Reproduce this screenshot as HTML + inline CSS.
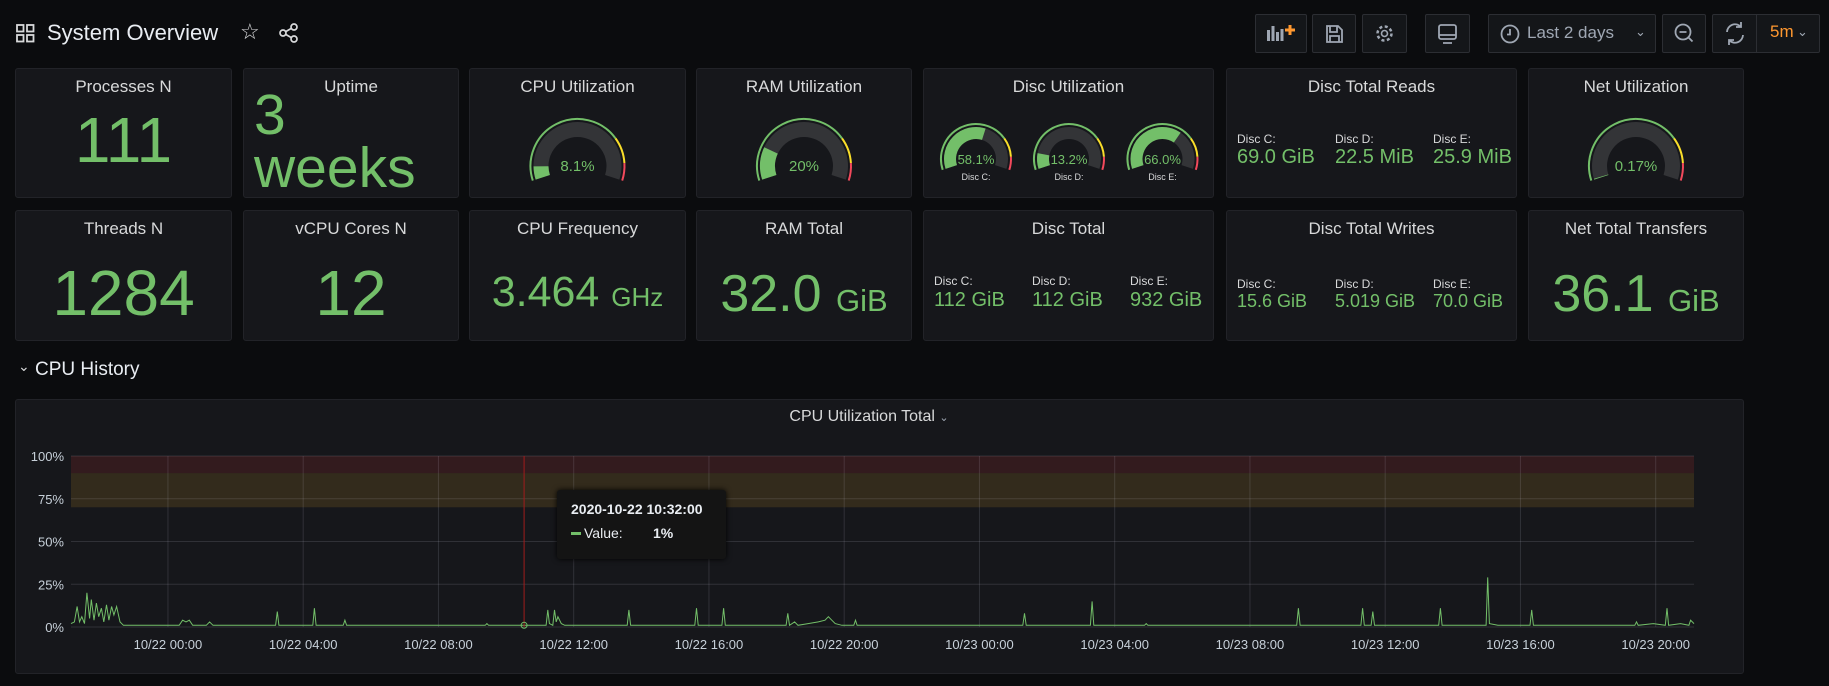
<!DOCTYPE html>
<html><head><meta charset="utf-8">
<style>
*{box-sizing:border-box;margin:0;padding:0}
body{width:1829px;height:686px;background:#0b0c0e;font-family:"Liberation Sans",sans-serif;color:#d8d9da;position:relative;overflow:hidden}
.abs{position:absolute}
.panel{position:absolute;background:#16171b;border:1px solid #222328;border-radius:3px}
.ptitle{position:absolute;left:0;right:0;top:8px;text-align:center;font-size:17px;color:#d8d9da}
.big{position:absolute;left:0;right:0;text-align:center;color:#73bf69;white-space:nowrap}
.btn{position:absolute;top:14px;height:39px;border:1px solid #2c2e33;background:#141619;border-radius:2px}
.lbl{position:absolute;font-size:12px;color:#d8d9da}
.val{position:absolute;font-size:20px;color:#73bf69;white-space:nowrap}
</style></head><body>
<!-- header -->
<svg class="abs" style="left:16px;top:24px" width="19" height="19"><g fill="none" stroke="#d8d9da" stroke-width="1.8"><rect x="1" y="1" width="6.5" height="6.5"/><rect x="11" y="1" width="6.5" height="6.5"/><rect x="1" y="11" width="6.5" height="6.5"/><rect x="11" y="11" width="6.5" height="6.5"/></g></svg>
<div class="abs" style="left:47px;top:20px;font-size:22px;color:#e9edf2">System Overview</div>
<div class="abs" style="left:240px;top:19px;font-size:22px;color:#d8d9da">☆</div>
<svg class="abs" style="left:279px;top:23px" width="20" height="20"><g fill="none" stroke="#d8d9da" stroke-width="1.7"><circle cx="4" cy="10" r="3"/><circle cx="15" cy="4" r="3"/><circle cx="15" cy="16" r="3"/><path d="M6.7 8.6L12.3 5.4M6.7 11.4L12.3 14.6"/></g></svg>

<div class="btn" style="left:1255px;width:52px"><svg width="50" height="37"><g fill="#9fa7b3"><rect x="11" y="15" width="3" height="11"/><rect x="15.5" y="11" width="3" height="15"/><rect x="20" y="17" width="3" height="9"/><rect x="24.5" y="14" width="3" height="12"/></g><path d="M34 10v10M29 15h10" stroke="#ff9830" stroke-width="3"/></svg></div>
<div class="btn" style="left:1312px;width:44px"><svg width="42" height="37"><path d="M14 11h11l4 4v12H14z M17 11v6h7v-6 M17 27v-6h9v6" fill="none" stroke="#9fa7b3" stroke-width="1.8"/></svg></div>
<div class="btn" style="left:1362px;width:45px"><svg width="43" height="37"><circle cx="21.5" cy="18.5" r="7" fill="none" stroke="#9fa7b3" stroke-width="2.5" stroke-dasharray="3 2.5"/><circle cx="21.5" cy="18.5" r="3" fill="none" stroke="#9fa7b3" stroke-width="1.6"/></svg></div>
<div class="btn" style="left:1425px;width:45px"><svg width="43" height="37"><rect x="13" y="10" width="17" height="14" rx="2" fill="none" stroke="#9fa7b3" stroke-width="1.8"/><path d="M13 20h17M17 28h9" stroke="#9fa7b3" stroke-width="1.8"/></svg></div>
<div class="btn" style="left:1488px;width:168px"><svg class="abs" style="left:10px;top:8px" width="22" height="22"><circle cx="11" cy="11" r="8.5" fill="none" stroke="#9fa7b3" stroke-width="1.8"/><path d="M11 6v5.5h-3" fill="none" stroke="#9fa7b3" stroke-width="1.8"/></svg><span class="abs" style="left:38px;top:8px;font-size:17px;color:#9fa7b3">Last 2 days</span><span class="abs" style="left:146px;top:9px;font-size:13px;color:#9fa7b3">⌄</span></div>
<div class="btn" style="left:1662px;width:44px"><svg width="42" height="37"><circle cx="20" cy="17" r="7.5" fill="none" stroke="#9fa7b3" stroke-width="1.8"/><path d="M16.5 17h7M25.5 22.5l4 4" stroke="#9fa7b3" stroke-width="1.8"/></svg></div>
<div class="btn" style="left:1712px;width:108px"><svg class="abs" style="left:0;top:0" width="44" height="37"><path d="M14 17a8 8 0 0 1 14-5M30 20a8 8 0 0 1-14 5M28 7v5h-5M16 30v-5h5" fill="none" stroke="#9fa7b3" stroke-width="1.8"/></svg><div class="abs" style="left:43px;top:0;width:1px;height:37px;background:#2c2e33"></div><span class="abs" style="left:57px;top:7px;font-size:17px;color:#ff9830">5m</span><span class="abs" style="left:84px;top:9px;font-size:13px;color:#9fa7b3">⌄</span></div>

<!-- row 1 -->
<div class="panel" style="left:15px;top:68px;width:217px;height:130px"><div class="ptitle">Processes N</div><div class="big" style="top:34px;font-size:64px">111</div></div>
<div class="panel" style="left:243px;top:68px;width:216px;height:130px"><div class="ptitle">Uptime</div><div class="big" style="text-align:left;left:10px;top:20px;font-size:57px;line-height:53px">3<br>weeks</div></div>
<div class="panel" style="left:469px;top:68px;width:217px;height:130px"><div class="ptitle">CPU Utilization</div></div>
<div class="panel" style="left:696px;top:68px;width:216px;height:130px"><div class="ptitle">RAM Utilization</div></div>
<div class="panel" style="left:923px;top:68px;width:291px;height:130px"><div class="ptitle">Disc Utilization</div></div>
<div class="panel" style="left:1226px;top:68px;width:291px;height:130px"><div class="ptitle">Disc Total Reads</div>
<div class="lbl" style="left:10px;top:63px">Disc C:</div><div class="val" style="left:10px;top:77px">69.0 GiB</div>
<div class="lbl" style="left:108px;top:63px">Disc D:</div><div class="val" style="left:108px;top:77px">22.5 MiB</div>
<div class="lbl" style="left:206px;top:63px">Disc E:</div><div class="val" style="left:206px;top:77px">25.9 MiB</div></div>
<div class="panel" style="left:1528px;top:68px;width:216px;height:130px"><div class="ptitle">Net Utilization</div></div>

<!-- row 2 -->
<div class="panel" style="left:15px;top:210px;width:217px;height:131px"><div class="ptitle">Threads N</div><div class="big" style="top:45px;font-size:64px">1284</div></div>
<div class="panel" style="left:243px;top:210px;width:216px;height:131px"><div class="ptitle">vCPU Cores N</div><div class="big" style="top:45px;font-size:64px">12</div></div>
<div class="panel" style="left:469px;top:210px;width:217px;height:131px"><div class="ptitle">CPU Frequency</div><div class="big" style="top:57px;font-size:43px">3.464 <span style="font-size:26px">GHz</span></div></div>
<div class="panel" style="left:696px;top:210px;width:216px;height:131px"><div class="ptitle">RAM Total</div><div class="big" style="top:53px;font-size:52px">32.0 <span style="font-size:31px">GiB</span></div></div>
<div class="panel" style="left:923px;top:210px;width:291px;height:131px"><div class="ptitle">Disc Total</div>
<div class="lbl" style="left:10px;top:63px">Disc C:</div><div class="val" style="left:10px;top:78px">112 GiB</div>
<div class="lbl" style="left:108px;top:63px">Disc D:</div><div class="val" style="left:108px;top:78px">112 GiB</div>
<div class="lbl" style="left:206px;top:63px">Disc E:</div><div class="val" style="left:206px;top:78px">932 GiB</div></div>
<div class="panel" style="left:1226px;top:210px;width:291px;height:131px"><div class="ptitle">Disc Total Writes</div>
<div class="lbl" style="left:10px;top:66px">Disc C:</div><div class="val" style="left:10px;top:80px;font-size:18px">15.6 GiB</div>
<div class="lbl" style="left:108px;top:66px">Disc D:</div><div class="val" style="left:108px;top:80px;font-size:18px">5.019 GiB</div>
<div class="lbl" style="left:206px;top:66px">Disc E:</div><div class="val" style="left:206px;top:80px;font-size:18px">70.0 GiB</div></div>
<div class="panel" style="left:1528px;top:210px;width:216px;height:131px"><div class="ptitle">Net Total Transfers</div><div class="big" style="top:53px;font-size:52px">36.1 <span style="font-size:31px">GiB</span></div></div>

<!-- row header -->
<div class="abs" style="left:18px;top:358px;font-size:14px;color:#d8d9da">⌄</div>
<div class="abs" style="left:35px;top:359px;font-size:19px;color:#e9edf2">CPU History</div>

<div class="panel" style="left:15px;top:399px;width:1729px;height:275px"></div>
<div class="abs" style="left:0;width:1738px;text-align:center;top:408px;font-size:16px;color:#d8d9da">CPU Utilization Total <span style="font-size:11px;color:#9fa7b3">⌄</span></div>

<svg id="ov" class="abs" style="left:0;top:0" width="1829" height="686"></svg>

<div class="abs" style="left:557px;top:490px;width:169px;height:69px;background:#141414;border-radius:3px;box-shadow:0 0 6px #000">
<div class="abs" style="left:14px;top:11px;font-size:14px;font-weight:bold;color:#e9edf2">2020-10-22 10:32:00</div>
<div class="abs" style="left:14px;top:42px;width:10px;height:3px;background:#73bf69"></div>
<div class="abs" style="left:27px;top:35px;font-size:14px;color:#e9edf2">Value:</div>
<div class="abs" style="left:96px;top:35px;font-size:14px;font-weight:bold;color:#e9edf2">1%</div>
</div>

<script>
// ---- gauge data ----
const gaugeLabels = ["CPU", "RAM", "Disc C:", "Disc D:", "Disc E:", "Net"];
const gaugeValues = [8.1, 20, 58.1, 13.2, 66.0, 0.17];
const gaugeTexts = ["8.1%", "20%", "58.1%", "13.2%", "66.0%", "0.17%"];
const thresholdSteps = [0, 75, 90, 100];
const thresholdColors = ["#73bf69", "#fade2a", "#f2495c"];

// ---- chart data (hours since 10/21 21:08) ----
const times = [
 0,0.1,0.18,0.25,0.32,0.4,0.47,0.55,0.6,0.68,0.75,0.82,0.9,0.97,1.05,1.12,1.2,1.27,1.35,1.45,1.55,
 2.5,3.2,3.3,3.4,3.5,3.6,4.0,4.1,4.2,
 5.5,6.05,6.1,6.15,
 7.15,7.2,7.25,
 8.05,8.1,8.15,
 10.5,12.25,12.3,12.35,13.4,
 14.05,14.1,14.15,14.25,14.3,14.35,14.4,14.5,14.6,
 15.5,16.45,16.5,16.55,
 18.45,18.5,18.55,19.25,19.3,19.35,
 20.5,21.15,21.2,21.25,21.4,21.5,21.8,22.1,22.3,22.4,22.5,22.6,22.8,
 23.15,23.2,23.25,24.5,26,
 28.15,28.2,28.25,29.5,30.15,30.2,30.25,
 31.75,31.8,31.85,33,34.5,
 36.25,36.3,36.35,37.2,
 38.15,38.2,38.25,38.45,38.5,38.55,39.5,
 40.45,40.5,40.55,41.2,41.85,41.9,41.95,42.2,
 43.15,43.2,43.25,44.5,45.5,
 46.25,46.3,46.35,46.8,47.15,47.2,47.25,47.6,47.85,47.9,48
];
const values = [
 2,3,12,3,6,2,20,5,16,4,14,6,11,3,13,4,12,7,12,3,1,
 1,1,4,3,4,1,1,3,1,
 1,1,9,1,
 1,11,1,
 1,4,1,
 1,1,2,1,1,
 1,10,2,1,10,3,6,2,1,
 1,1,10,1,
 1,11,1,1,11,1,
 1,1,8,1,3,1,2,3,4,6,4,2,1,
 1,4,1,1,1,
 1,8,1,1,1,15,1,
 1,2,1,1,1,
 1,11,1,1,
 1,11,1,1,9,1,1,
 1,11,1,1,1,29,2,1,
 1,10,1,1,1,
 1,3,1,2,1,11,1,2,1,4,2
];
const yTicks = [0, 25, 50, 75, 100];
const yTickLabels = ["0%", "25%", "50%", "75%", "100%"];
const xTickHours = [2.867, 6.867, 10.867, 14.867, 18.867, 22.867, 26.867, 30.867, 34.867, 38.867, 42.867, 46.867];
const xTickLabels = ["10/22 00:00","10/22 04:00","10/22 08:00","10/22 12:00","10/22 16:00","10/22 20:00","10/23 00:00","10/23 04:00","10/23 08:00","10/23 12:00","10/23 16:00","10/23 20:00"];
const bandRanges = [[90, 100], [70, 90]];
const bandColors = ["rgba(245,54,54,0.13)", "rgba(250,180,40,0.13)"];
const hoverHour = 13.4;
const hoverValue = 1;

const NS = "http://www.w3.org/2000/svg";
const svg = document.getElementById("ov");
function mk(tag, attrs, parent) {
  const e = document.createElementNS(NS, tag);
  for (const k in attrs) e.setAttribute(k, attrs[k]);
  (parent || svg).appendChild(e);
  return e;
}

const gaugeGeom = [
  {cx:577.5, cy:166, r:48, bw:15, fs:15, lab:false},
  {cx:804, cy:166, r:48, bw:15, fs:15, lab:false},
  {cx:976, cy:159, r:36, bw:12, fs:13, lab:true},
  {cx:1069, cy:159, r:36, bw:12, fs:13, lab:true},
  {cx:1162.5, cy:159, r:36, bw:12, fs:13, lab:true},
  {cx:1636, cy:166, r:48, bw:15, fs:15, lab:false}
];
function ang(p) { return (198 - 216 * p / 100) * Math.PI / 180; }
function arc(cx, cy, r, p0, p1) {
  const a0 = ang(p0), a1 = ang(p1);
  const x0 = cx + r * Math.cos(a0), y0 = cy - r * Math.sin(a0);
  const x1 = cx + r * Math.cos(a1), y1 = cy - r * Math.sin(a1);
  const large = (216 * (p1 - p0) / 100) > 180 ? 1 : 0;
  return `M${x0} ${y0} A${r} ${r} 0 ${large} 1 ${x1} ${y1}`;
}
gaugeValues.forEach((v, i) => {
  const g = gaugeGeom[i];
  const grp = mk("g", {});
  
  
  for (let s = 0; s < thresholdColors.length; s++) {
    const seg = mk("path", {d: arc(g.cx, g.cy, g.r - 1, thresholdSteps[s], thresholdSteps[s + 1]), stroke: thresholdColors[s], "stroke-width": 2, fill: "none"}, grp);
    
    
  }
  const rb = g.r - 4 - g.bw / 2;
  const bg = mk("path", {d: arc(g.cx, g.cy, rb, 0, 100), stroke: "#333437", "stroke-width": g.bw, fill: "none"}, grp);
  
  
  const fillP = Math.max(v, 0.5);
  const fl = mk("path", {d: arc(g.cx, g.cy, rb, 0, fillP), stroke: "#73bf69", "stroke-width": g.bw, fill: "none"}, grp);
  
  
  const t = mk("text", {x: g.cx, y: g.cy + 5, "text-anchor": "middle", "font-size": g.fs, fill: "#73bf69", "font-family": "Liberation Sans, sans-serif"}, grp);
  t.textContent = gaugeTexts[i];
  
  
  if (g.lab) {
    const l = mk("text", {x: g.cx, y: g.cy + 21, "text-anchor": "middle", "font-size": 9, fill: "#d8d9da", "font-family": "Liberation Sans, sans-serif"}, grp);
    l.textContent = gaugeLabels[i];
    
    
  }
});

// chart
const PL = 71, PR = 1694, PT = 456, PB = 627, HMAX = 48, YMAX = 100;
const xs = h => PL + (h / HMAX) * (PR - PL);
const ys = v => PB - (v / YMAX) * (PB - PT);
bandRanges.forEach((b, i) => {
  const r = mk("rect", {x: PL, y: ys(b[1]), width: PR - PL, height: ys(b[0]) - ys(b[1]), fill: bandColors[i]});
  
  
});
yTicks.forEach((v, i) => {
  const l = mk("line", {x1: PL, x2: PR, y1: ys(v), y2: ys(v), stroke: "rgba(204,204,220,0.15)", "stroke-width": 1});
  
  
  const t = mk("text", {x: 64, y: ys(v) + 5, "text-anchor": "end", "font-size": 13, fill: "#c7d0d9", "font-family": "Liberation Sans, sans-serif"});
  t.textContent = yTickLabels[i];
  
  
});
xTickHours.forEach((h, i) => {
  const l = mk("line", {x1: xs(h), x2: xs(h), y1: PT, y2: PB, stroke: "rgba(204,204,220,0.15)", "stroke-width": 1});
  
  
  const t = mk("text", {x: xs(h), y: 649, "text-anchor": "middle", "font-size": 13, fill: "#c7d0d9", "font-family": "Liberation Sans, sans-serif"});
  t.textContent = xTickLabels[i];
  
  
});
let d = "";
times.forEach((h, i) => { d += (i ? "L" : "M") + xs(h).toFixed(1) + " " + ys(values[i]).toFixed(1); });
const line = mk("path", {d: d, stroke: "#73bf69", "stroke-width": 1, fill: "none"});


const cross = mk("line", {x1: xs(hoverHour), x2: xs(hoverHour), y1: PT, y2: PB, stroke: "#a01c1c", "stroke-width": 1});


const dot = mk("circle", {cx: xs(hoverHour), cy: ys(hoverValue), r: 3, fill: "none", stroke: "#73bf69", "stroke-width": 1});


</script>
</body></html>
